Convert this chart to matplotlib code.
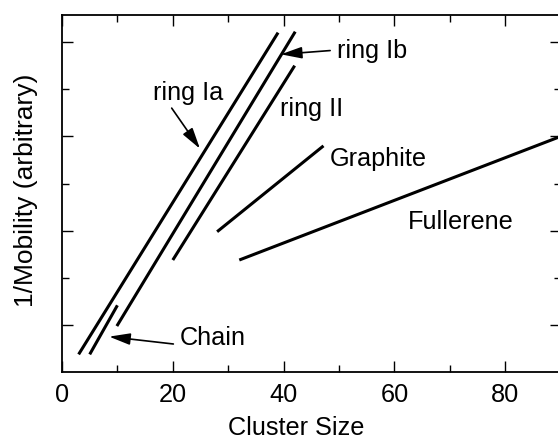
import matplotlib
matplotlib.use("Agg")
import matplotlib.pyplot as plt
from matplotlib.ticker import MultipleLocator, NullFormatter

plt.rcParams["font.family"] = ["Liberation Sans", "DejaVu Sans"]

# Linear mobility trends per structural family: (start, end) in cluster size and 1/mobility
ring_ia_x = [3.0, 39.0]
ring_ia_y = [0.19, 3.60]
chain_x = [5.0, 10.0]
chain_y = [0.19, 0.71]
ring_ib_x = [9.9, 42.1]
ring_ib_y = [0.49, 3.61]
ring_ii_x = [20.0, 42.0]
ring_ii_y = [1.19, 3.25]
graphite_x = [28.0, 47.2]
graphite_y = [1.49, 2.40]
fullerene_x = [32.0, 90.0]
fullerene_y = [1.19, 2.50]

x_ticks = [0, 20, 40, 60, 80]

W, H = 558, 439
fig = plt.figure(figsize=(W / 100, H / 100), dpi=100)
ax_w, ax_h = 498.6, 357.6
ax = fig.add_axes([62 / W, 65.7 / H, ax_w / W, ax_h / H])

lw = 2.2
for xs, ys in [(ring_ia_x, ring_ia_y), (chain_x, chain_y), (ring_ib_x, ring_ib_y),
               (ring_ii_x, ring_ii_y), (graphite_x, graphite_y),
               (fullerene_x, fullerene_y)]:
    ax.plot(xs, ys, color="black", lw=lw, solid_capstyle="butt")

ax.set_xlim(0, 90)
ax.set_ylim(0, 3.79)

ax.set_xticks(x_ticks)
ax.xaxis.set_minor_locator(MultipleLocator(10))
ax.set_yticks([0.5, 1.5, 2.5, 3.5])
ax.set_yticks([1.0, 2.0, 3.0], minor=True)
ax.yaxis.set_major_formatter(NullFormatter())

fs = 18.2
ax.tick_params(which="both", direction="in", top=True, right=True, width=1.0,
               labelsize=fs, pad=7)
ax.tick_params(which="major", length=8)
ax.tick_params(which="minor", length=5)
for sp in ax.spines.values():
    sp.set_linewidth(1.3)

ax.set_xlabel("Cluster Size", fontsize=fs, va="baseline")
ax.xaxis.set_label_coords((296.5 - 62) / ax_w, -(435.5 - 373.3) / ax_h)
ax.set_ylabel("1/Mobility (arbitrary)", fontsize=19)
ax.yaxis.set_label_coords(-(62 - 38) / ax_w, (373.3 - 190) / ax_h)

ax.text(16.4, 2.90, "ring Ia", fontsize=fs, ha="left", va="baseline")
ax.text(49.7, 3.34, "ring Ib", fontsize=fs, ha="left", va="baseline")
ax.text(39.4, 2.73, "ring II", fontsize=fs, ha="left", va="baseline")
ax.text(48.4, 2.20, "Graphite", fontsize=fs, ha="left", va="baseline")
ax.text(62.5, 1.525, "Fullerene", fontsize=fs, ha="left", va="baseline")
ax.text(21.3, 0.305, "Chain", fontsize=fs, ha="left", va="baseline")

arrow = dict(arrowstyle="-|>,head_length=0.8,head_width=0.22", color="black",
             lw=1.2, shrinkA=0, shrinkB=0, mutation_scale=16)
ax.annotate("", xy=(24.9, 2.37), xytext=(19.8, 2.80), arrowprops=arrow)
ax.annotate("", xy=(39.5, 3.37), xytext=(48.4, 3.41), arrowprops=arrow)
ax.annotate("", xy=(8.5, 0.378), xytext=(20.1, 0.30), arrowprops=arrow)

fig.savefig("out.png", dpi=100)
